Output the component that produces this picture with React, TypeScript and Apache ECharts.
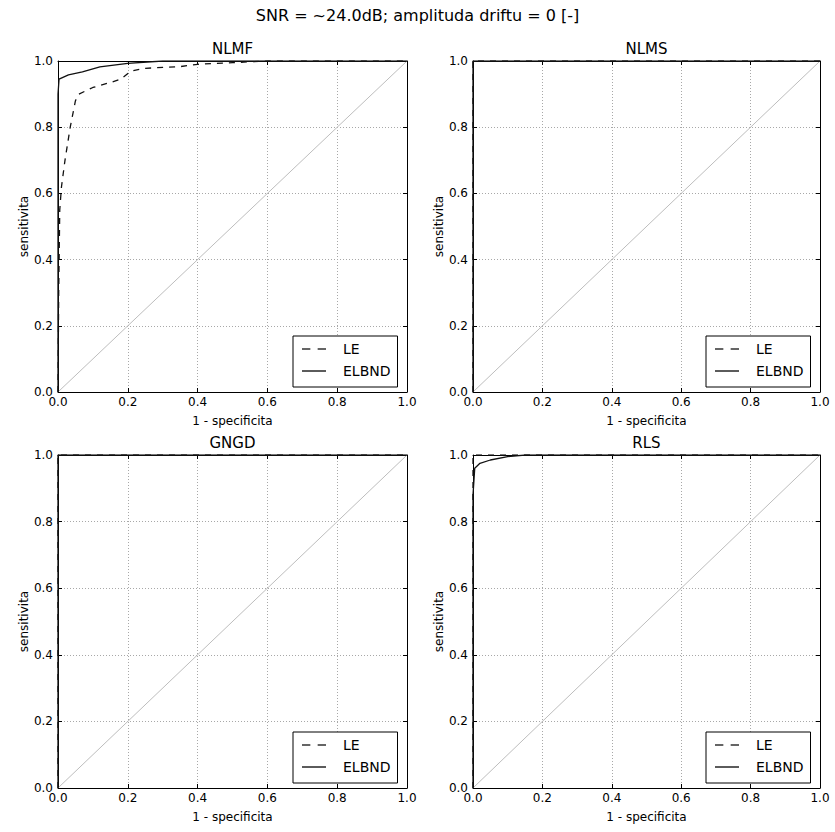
import React, { useEffect, useRef } from "react";
import * as echarts from "echarts";

const mainTitle = "SNR = ~24.0dB; amplituda driftu = 0 [-]";
const panelNames = ["NLMF", "NLMS", "GNGD", "RLS"];
const xLabel = "1 - specificita";
const yLabel = "sensitivita";

// NLMF
const nlmfLeX = [0, 0.002, 0.005, 0.01, 0.02, 0.035, 0.05, 0.06, 0.1, 0.15, 0.18, 0.21, 0.25, 0.35, 0.4, 0.5, 0.6, 1];
const nlmfLeY = [0, 0.3, 0.55, 0.62, 0.7, 0.8, 0.88, 0.9, 0.92, 0.935, 0.945, 0.97, 0.978, 0.983, 0.99, 0.995, 1, 1];
const nlmfElX = [0, 0, 0.003, 0.03, 0.07, 0.12, 0.2, 0.3, 1];
const nlmfElY = [0, 0.9, 0.945, 0.958, 0.967, 0.982, 0.993, 1, 1];
// NLMS
const nlmsLeX = [0, 0, 1];
const nlmsLeY = [0, 1, 1];
const nlmsElX = [0, 0, 1];
const nlmsElY = [0, 1, 1];
// GNGD
const gngdLeX = [0, 0, 1];
const gngdLeY = [0, 1, 1];
const gngdElX = [0, 0, 1];
const gngdElY = [0, 1, 1];
// RLS
const rlsLeX = [0, 0, 1];
const rlsLeY = [0, 1, 1];
const rlsElX = [0, 0, 0.005, 0.02, 0.05, 0.1, 0.15, 1];
const rlsElY = [0, 0.88, 0.96, 0.975, 0.985, 0.995, 1, 1];
// chance diagonal
const diagX = [0, 1];
const diagY = [0, 1];

const leData = [[nlmfLeX, nlmfLeY], [nlmsLeX, nlmsLeY], [gngdLeX, gngdLeY], [rlsLeX, rlsLeY]];
const elData = [[nlmfElX, nlmfElY], [nlmsElX, nlmsElY], [gngdElX, gngdElY], [rlsElX, rlsElY]];

const zip = (xs: number[], ys: number[]) => xs.map((x, i) => [x, ys[i]]);

const W = 835;
const H = 832;
const lefts = [58, 473, 58, 473];
const tops = [61, 61, 455, 455];
const widths = [349, 347, 349, 347];
const heights = [331, 331, 333, 333];

const FONT = "DejaVu Sans";
const dashIcon = "path://M0,0H8V1H0ZM15,0H23V1H15Z";
const solidIcon = "path://M0,0H23V1H0Z";

export default function App() {
  const ref = useRef<HTMLDivElement>(null);
  useEffect(() => {
    if (!ref.current) return;
    const chart = echarts.init(ref.current, undefined, { renderer: "svg" });
    const grid: any[] = [];
    const xAxis: any[] = [];
    const yAxis: any[] = [];
    const series: any[] = [];
    const title: any[] = [
      {
        text: mainTitle,
        left: W / 2,
        top: 7,
        textAlign: "center",
        padding: 0,
        textStyle: { fontFamily: FONT, fontSize: 16, fontWeight: "normal", color: "#000" },
      },
    ];
    const legend: any[] = [];
    const tickLine = { show: true, inside: true, length: 4, lineStyle: { color: "#000", width: 1 } };
    for (let i = 0; i < 4; i++) {
      grid.push({ left: lefts[i], top: tops[i], width: widths[i], height: heights[i], containLabel: false });
      const base = {
        gridIndex: i,
        type: "value",
        min: 0,
        max: 1,
        interval: 0.2,
        axisLine: { show: true, onZero: false, lineStyle: { color: "#000", width: 1 } },
        axisTick: tickLine,
      };
      xAxis.push({
        ...base,
        position: "bottom",
        name: xLabel,
        nameLocation: "middle",
        nameGap: 23,
        nameTextStyle: { fontFamily: FONT, fontSize: 12, color: "#000" },
        axisLabel: { show: true, margin: 4, fontFamily: FONT, fontSize: 12, color: "#000", formatter: (v: number) => v.toFixed(1) },
        splitLine: { show: true, lineStyle: { color: "#a8a8a8", width: 1, type: [1, 2] } },
      });
      xAxis.push({ ...base, position: "top", axisLabel: { show: false }, splitLine: { show: false } });
      yAxis.push({
        ...base,
        position: "left",
        name: yLabel,
        nameLocation: "middle",
        nameGap: 26,
        nameRotate: 90,
        nameTextStyle: { fontFamily: FONT, fontSize: 12, color: "#000" },
        axisLabel: { show: true, margin: 5, fontFamily: FONT, fontSize: 12, color: "#000", formatter: (v: number) => v.toFixed(1) },
        splitLine: { show: true, lineStyle: { color: "#a8a8a8", width: 1, type: [1, 2] } },
      });
      yAxis.push({ ...base, position: "right", axisLabel: { show: false }, splitLine: { show: false } });

      title.push({
        text: panelNames[i],
        left: lefts[i] + widths[i] / 2,
        top: tops[i] - 20,
        textAlign: "center",
        padding: 0,
        textStyle: { fontFamily: FONT, fontSize: 15, fontWeight: "normal", color: "#000" },
      });

      series.push({
        name: "diag",
        type: "line",
        xAxisIndex: 2 * i,
        yAxisIndex: 2 * i,
        data: zip(diagX, diagY),
        symbol: "none",
        silent: true,
        lineStyle: { color: "#bdbdbd", width: 1 },
        z: 1,
      });
      series.push({
        name: "LE",
        type: "line",
        xAxisIndex: 2 * i,
        yAxisIndex: 2 * i,
        data: zip(leData[i][0], leData[i][1]),
        symbol: "none",
        lineStyle: { color: "#111", width: 1.3, type: [6, 6] },
        itemStyle: { color: "#111" },
        z: 3,
      });
      series.push({
        name: "ELBND",
        type: "line",
        xAxisIndex: 2 * i,
        yAxisIndex: 2 * i,
        data: zip(elData[i][0], elData[i][1]),
        symbol: "none",
        lineStyle: { color: "#111", width: 1.3 },
        itemStyle: { color: "#111" },
        z: 4,
      });

      legend.push({
        data: [
          { name: "LE", icon: dashIcon },
          { name: "ELBND", icon: solidIcon },
        ],
        orient: "vertical",
        left: lefts[i] + widths[i] - 8 - 106,
        top: tops[i] + heights[i] - 5 - 51,
        width: 106,
        padding: [6, 7, 9, 9],
        itemGap: 8,
        itemWidth: 24,
        itemHeight: 1.6,
        symbolKeepAspect: false,
        backgroundColor: "#fff",
        borderColor: "#000",
        borderWidth: 1,
        borderRadius: 0,
        selectedMode: false,
        itemStyle: { color: "#333", borderWidth: 0 },
        lineStyle: { width: 0 },
        textStyle: { fontFamily: FONT, fontSize: 14, color: "#000", lineHeight: 14, padding: [0, 0, 0, 12] },
        z: 10,
      });
    }
    chart.setOption({
      animation: false,
      backgroundColor: "#fff",
      title,
      grid,
      xAxis,
      yAxis,
      legend,
      series,
    });
    return () => chart.dispose();
  }, []);
  return <div ref={ref} style={{ position: "absolute", left: 0, top: 0, width: W, height: H }} />;
}
